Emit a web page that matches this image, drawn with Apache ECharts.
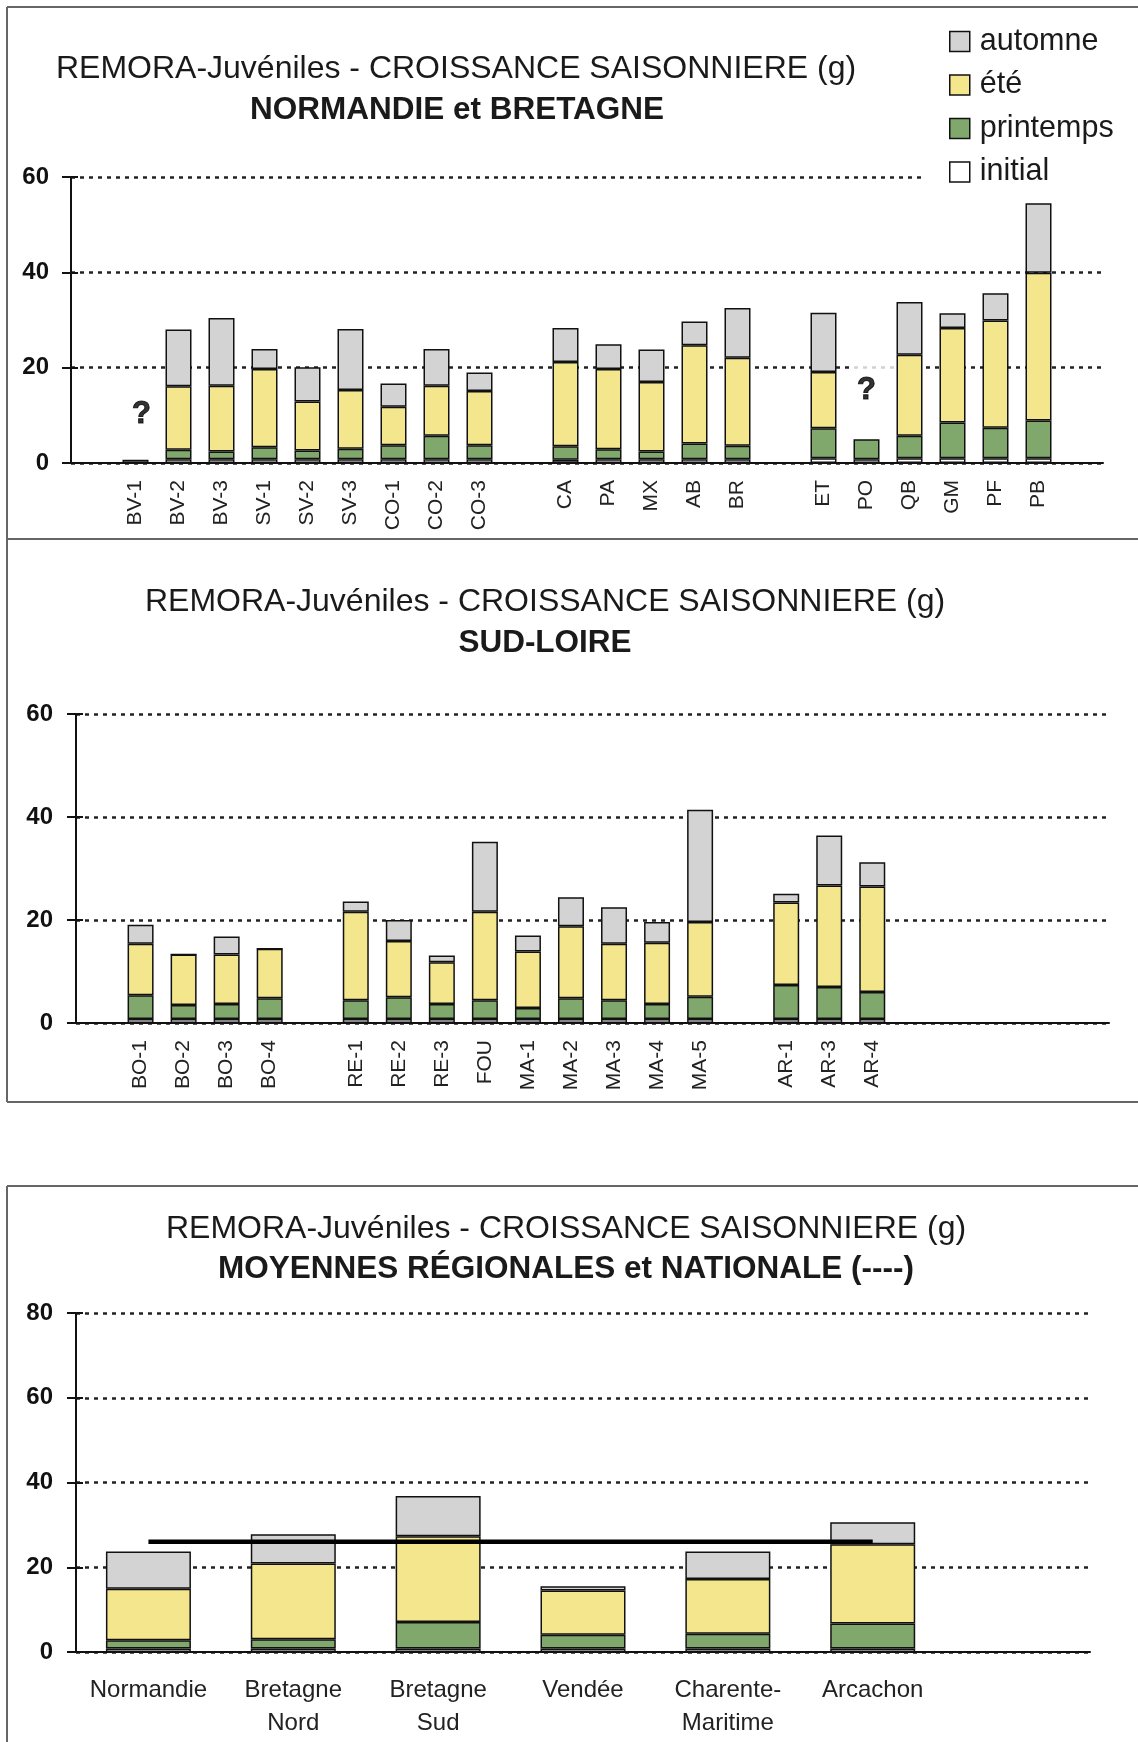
<!DOCTYPE html>
<html><head><meta charset="utf-8">
<script src="https://cdn.jsdelivr.net/npm/echarts/dist/echarts.min.js"></script>
<style>html,body{margin:0;padding:0;background:#fff}#c{width:1138px;height:1742px}</style>
</head><body><div id="c"></div>
<script>
const FONT = '"Liberation Sans", Arial, Helvetica, sans-serif';

// ---------- Chart 1 : Normandie et Bretagne ----------
const cats1 = ['', 'BV-1','BV-2','BV-3','SV-1','SV-2','SV-3','CO-1','CO-2','CO-3', '',
               'CA','PA','MX','AB','BR', '', 'ET','PO','QB','GM','PF','PB', ''];
const initial1   = [null, 0.7,0.8,0.8,0.8,0.8,0.8,0.8,0.8,0.8, null, 0.7,0.8,0.8,0.8,0.8, null, 1.0,0.8,1.0,1.0,1.0,1.0, null];
const printemps1 = [null, null,2.0,1.6,2.5,1.8,2.2,2.9,4.9,2.9, null, 2.8,2.1,1.6,3.3,2.8, null, 6.3,4.2,4.7,7.5,6.4,7.9, null];
const ete1       = [null, null,13.3,13.8,16.4,10.3,12.3,8.1,10.5,11.4, null, 17.7,16.8,14.6,20.6,18.5, null, 11.8,null,17.0,19.8,22.5,31.0, null];
const automne1   = [null, null,11.9,14.2,4.2,7.2,12.8,4.9,7.7,3.9, null, 7.1,5.2,6.8,5.0,10.4, null, 12.4,null,11.1,3.1,5.7,14.6, null];
const qMarks1    = [['BV-1', 10.2], ['PO', 15.3]];
const yTicks1    = {min:0, max:60, interval:20};

// ---------- Chart 2 : Sud-Loire ----------
const cats2 = ['', 'BO-1','BO-2','BO-3','BO-4', '',
               'RE-1','RE-2','RE-3','FOU','MA-1','MA-2','MA-3','MA-4','MA-5', '',
               'AR-1','AR-3','AR-4', '', '', '', '', ''];
const initial2   = [null, 0.8,0.8,0.8,0.8, null, 0.8,0.8,0.8,0.8,0.8,0.8,0.8,0.8,0.8, null, 0.8,0.8,0.8, null,null,null,null,null];
const printemps2 = [null, 4.6,2.7,2.9,4.0, null, 3.6,4.2,2.9,3.6,2.1,4.0,3.6,2.9,4.3, null, 6.6,6.2,5.2, null,null,null,null,null];
const ete2       = [null, 10.0,9.8,9.6,9.6, null, 17.2,10.9,8.1,17.2,11.0,14.0,11.0,11.9,14.5, null, 16.0,19.7,20.5, null,null,null,null,null];
const automne2   = [null, 3.7,0,3.5,0, null, 2.0,4.1,1.3,13.6,3.1,5.6,7.1,4.0,21.8, null, 1.7,9.7,4.7, null,null,null,null,null];
const yTicks2    = {min:0, max:60, interval:20};

// ---------- Chart 3 : Moyennes régionales et nationale ----------
const cats3 = ['Normandie','Bretagne\nNord','Bretagne\nSud','Vendée','Charente-\nMaritime','Arcachon',''];
const initial3   = [0.8,0.8,0.8,0.8,0.8,0.8,null];
const printemps3 = [2.0,2.2,6.3,3.3,3.5,5.9,null];
const ete3       = [12.1,17.9,20.2,10.4,12.9,18.7,null];
const automne3   = [8.8,6.9,9.5,1.0,6.5,5.2,null];
const national3  = [26,26,26,26,26,26,null];
const yTicks3    = {min:0, max:80, interval:20};

const titleMain = 'REMORA-Juvéniles - CROISSANCE SAISONNIERE (g)';
const sub1 = 'NORMANDIE et BRETAGNE';
const sub2 = 'SUD-LOIRE';
const sub3 = 'MOYENNES RÉGIONALES et NATIONALE (----)';
const legendOrder = ['automne','été','printemps','initial'];

const seasonColors = {initial:'#ffffff', printemps:'#80a86c', 'été':'#f4e68c', automne:'#d3d3d3'};

function stackSeries(g, vals, bw) {
  const names = ['initial','printemps','été','automne'];
  return names.map((n, k) => ({
    type:'bar', name:n, stack:'st'+g, xAxisIndex:g, yAxisIndex:g, barWidth:bw,
    data: vals[k], z:2,
    itemStyle:{color:seasonColors[n], borderColor:'#111', borderWidth:1.5},
    emphasis:{disabled:true}
  }));
}

const grids = [
  {left:71, top:177, width:1032, height:286},
  {left:76, top:714, width:1033, height:309},
  {left:76, top:1313, width:1014, height:339}
];

function xAx(g, data, extra) {
  return Object.assign({
    type:'category', gridIndex:g, data:data,
    axisLine:{lineStyle:{color:'#111', width:2}},
    axisTick:{show:false},
    axisLabel:{interval:0, rotate:90, margin:17, fontSize:21, color:'#222', fontFamily:FONT}
  }, extra || {});
}
function yAx(g, t, margin) {
  return {
    type:'value', gridIndex:g, min:t.min, max:t.max, interval:t.interval, position:'left',
    axisLine:{show:true, lineStyle:{color:'#111', width:2}},
    axisTick:{show:true, length:9, lineStyle:{color:'#111', width:2}},
    axisLabel:{margin:margin, fontSize:24, fontWeight:'bold', color:'#111', fontFamily:FONT},
    splitLine:{show:true, lineStyle:{color:'#222', width:2.5, type:[4,5]}}
  };
}
function yIn(g, t) {
  return {
    type:'value', gridIndex:g, min:t.min, max:t.max, interval:t.interval, position:'left',
    axisLine:{show:false}, axisLabel:{show:false}, splitLine:{show:false},
    axisTick:{show:true, inside:true, length:7, lineStyle:{color:'#111', width:2}}
  };
}

function titleAt(text, cx, cy, bold) {
  return {text:text, left:cx, top:cy-17, textAlign:'center', padding:0,
    textStyle:{fontSize:bold?31.5:32, fontWeight:bold?'bold':'normal', color:'#1a1a1a', fontFamily:FONT, lineHeight:34}};
}

const series = [];
// "?" annotations (under bars, over grid lines)
series.push({
  type:'scatter', xAxisIndex:0, yAxisIndex:0, symbol:'circle', symbolSize:1, z:1, silent:true,
  itemStyle:{color:'rgba(255,255,255,0)'},
  label:{show:true, position:'inside', formatter:'?', fontSize:31, fontWeight:'bold', color:'#000',
         textBorderWidth:1, textBorderColor:'#000', fontFamily:FONT},
  data: qMarks1.map((q, i) => i === 1
    ? {value:q, label:{backgroundColor:'#fff', padding:[24,20,6,8], offset:[6,0]}}
    : {value:q, label:{offset:[6,0]}})
});
series.push(...stackSeries(0, [initial1, printemps1, ete1, automne1], 26));
series.push(...stackSeries(1, [initial2, printemps2, ete2, automne2], 26));
series.push(...stackSeries(2, [initial3, printemps3, ete3, automne3], 85));
series.push({
  type:'line', name:'nationale', xAxisIndex:2, yAxisIndex:2, data:national3, symbol:'none', z:5,
  lineStyle:{color:'#000', width:4.5}, silent:true
});

const option = {
  animation:false,
  backgroundColor:'#fff',
  title:[
    titleAt(titleMain, 456, 69, false), titleAt(sub1, 457, 110, true),
    titleAt(titleMain, 545, 602, false), titleAt(sub2, 545, 643, true),
    titleAt(titleMain, 566, 1229, false), titleAt(sub3, 566, 1269, true)
  ],
  legend:{
    data:legendOrder, orient:'vertical', left:922, top:21, padding:[5,12,5,27],
    backgroundColor:'#fff', itemWidth:20, itemHeight:20, itemGap:12.5, icon:'rect',
    selectedMode:false, z:10,
    itemStyle:{borderColor:'#111', borderWidth:1.5},
    textStyle:{fontSize:30.5, color:'#1a1a1a', fontFamily:FONT, lineHeight:28, padding:[0,0,0,5]}
  },
  grid: grids,
  xAxis:[
    xAx(0, cats1),
    xAx(1, cats2),
    xAx(2, cats3, {axisLabel:{interval:0, rotate:0, margin:22, fontSize:24, lineHeight:33, color:'#222', fontFamily:FONT}})
  ],
  yAxis:[ yAx(0, yTicks1, 22), yAx(1, yTicks2, 23), yAx(2, yTicks3, 23),
          yIn(0, yTicks1), yIn(1, yTicks2), yIn(2, yTicks3) ],
  graphic:[
    {type:'line', shape:{x1:7, y1:7, x2:1138, y2:7}, style:{stroke:'#666', lineWidth:2}},
    {type:'line', shape:{x1:7, y1:7, x2:7, y2:1102}, style:{stroke:'#666', lineWidth:2}},
    {type:'line', shape:{x1:7, y1:539, x2:1138, y2:539}, style:{stroke:'#666', lineWidth:2}},
    {type:'line', shape:{x1:7, y1:1102, x2:1138, y2:1102}, style:{stroke:'#666', lineWidth:2}},
    {type:'line', shape:{x1:7, y1:1186, x2:1138, y2:1186}, style:{stroke:'#666', lineWidth:2}},
    {type:'line', shape:{x1:7, y1:1186, x2:7, y2:1742}, style:{stroke:'#666', lineWidth:2}}
  ],
  series: series
};

const chart = echarts.init(document.getElementById('c'), null, {renderer:'canvas'});
chart.setOption(option);
</script>
</body></html>
